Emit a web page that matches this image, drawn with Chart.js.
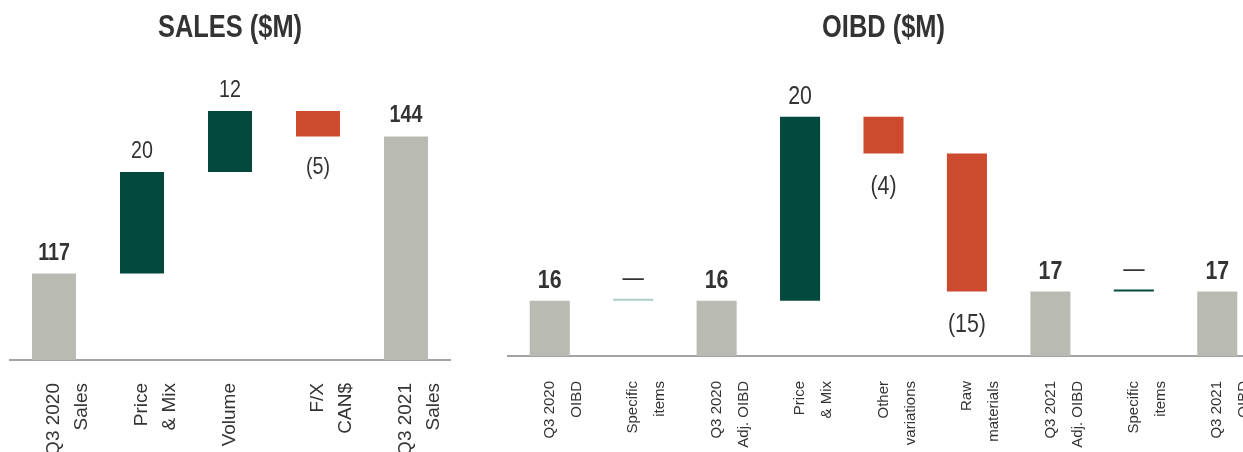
<!DOCTYPE html>
<html>
<head>
<meta charset="utf-8">
<script src="https://cdn.jsdelivr.net/npm/chart.js@4.4.1/dist/chart.umd.min.js"></script>
<style>
  html, body { margin: 0; padding: 0; background: #fff; overflow: hidden; }
  body { width: 1243px; height: 452px; position: relative; }
  .box { position: absolute; top: 0; height: 452px; }
  #salesBox { left: 0; width: 460px; }
  #oibdBox { left: 490px; width: 770px; }
</style>
</head>
<body>
<div id="salesBox" class="box"><canvas id="salesChart"></canvas></div>
<div id="oibdBox" class="box"><canvas id="oibdChart"></canvas></div>
<script>
// 銷售額橋接：類別、變動值、種類（total = 從軸底起算的總額）
const salesLabels = [['Q3 2020', 'Sales'], ['Price', '& Mix'], ['Volume'], ['F/X', 'CAN$'], ['Q3 2021', 'Sales']];
const salesSteps = [117, 20, 12, -5, 144];
const salesKinds = ['total', 'delta', 'delta', 'delta', 'total'];

// OIBD 橋接
const oibdLabels = [
    ['Q3 2020', 'OIBD'], ['Specific', 'items'], ['Q3 2020', 'Adj. OIBD'], ['Price', '& Mix'],
    ['Other', 'variations'], ['Raw', 'materials'], ['Q3 2021', 'Adj. OIBD'], ['Specific', 'items'], ['Q3 2021', 'OIBD']
];
const oibdSteps = [16, 0, 16, 20, -4, -15, 17, 0, 17];
const oibdKinds = ['total', 'delta', 'total', 'delta', 'delta', 'delta', 'total', 'delta', 'total'];

// 顏色與字型
const GREY = '#b9bab1';
const GREEN = '#034a3c';
const RED = '#cd4a2f';
const TEAL = '#a8cfc7';
const TEXT = '#333333';
const FONT = "'Liberation Sans', Arial, sans-serif";
const SQUEEZE = 0.82;   // 窄體字效果（水平壓縮）

const salesColors = [GREY, GREEN, GREEN, RED, GREY];
const oibdColors = [GREY, TEAL, GREY, GREEN, RED, RED, GREY, GREEN, GREY];

// 函式：把變動值轉成浮動長條 [起, 迄]
function buildFloating(steps, kinds, axisMin) {
    let running = 0;
    return steps.map((v, i) => {
        if (kinds[i] === 'total') {
            running = v;
            return [axisMin, v];
        }
        const from = running;
        running += v;
        return [from, running];
    });
}

// 函式：畫水平壓縮的文字
function drawNarrow(ctx, text, x, y, font) {
    ctx.save();
    ctx.translate(x, y);
    ctx.scale(SQUEEZE, 1);
    ctx.font = font;
    ctx.fillText(text, 0, 0);
    ctx.restore();
}

// 標題 + 數值標籤（正值在上、負值在下）
const valueLabels = {
    id: 'valueLabels',
    afterDatasetsDraw(chart, args, opts) {
        const ctx = chart.ctx;
        const area = chart.chartArea;
        const meta = chart.getDatasetMeta(0);
        ctx.save();
        ctx.textAlign = 'center';
        ctx.textBaseline = 'alphabetic';
        ctx.fillStyle = TEXT;

        drawNarrow(ctx, opts.title, (area.left + area.right) / 2, 37, 'bold 31px ' + FONT);

        meta.data.forEach((bar, i) => {
            const v = opts.steps[i];
            const bold = opts.kinds[i] === 'total';
            const text = v < 0 ? '(' + (-v) + ')' : (v === 0 ? '—' : String(v));
            const top = Math.min(bar.y, bar.base);
            const bottom = Math.max(bar.y, bar.base);
            const y = v < 0 ? bottom + opts.below : top - opts.above;
            drawNarrow(ctx, text, bar.x, y, (bold ? 'bold ' : '') + opts.size + 'px ' + FONT);
        });
        ctx.restore();
    }
};

function makeChart(id, cfg) {
    return new Chart(document.getElementById(id), {
        type: 'bar',
        data: {
            labels: cfg.labels,
            datasets: [{
                data: buildFloating(cfg.steps, cfg.kinds, cfg.min),
                backgroundColor: cfg.colors,
                borderWidth: 0,
                borderSkipped: false,
                categoryPercentage: 1,
                barPercentage: cfg.barPct,
                minBarLength: 2
            }]
        },
        options: {
            responsive: true,
            maintainAspectRatio: false,
            animation: false,
            layout: { padding: cfg.padding },
            plugins: {
                legend: { display: false },
                tooltip: { enabled: false },
                title: { display: false },
                valueLabels: {
                    title: cfg.title, steps: cfg.steps, kinds: cfg.kinds,
                    size: cfg.valueSize, above: cfg.above, below: cfg.below
                }
            },
            scales: {
                x: {
                    grid: { display: false, drawTicks: false },
                    border: { display: true, color: '#a3a3a3', width: 2 },
                    ticks: {
                        autoSkip: false,
                        maxRotation: 90,
                        minRotation: 90,
                        padding: cfg.tickPad,
                        color: TEXT,
                        font: { family: FONT, size: cfg.tickSize, lineHeight: cfg.tickLine }
                    },
                    afterFit: (scale) => {
                        // 固定軸高度，不讓旋轉標籤擠壓圖區
                        scale.height = cfg.axisHeight;
                        scale.paddingLeft = 0;
                        scale.paddingRight = 0;
                    }
                },
                y: { display: false, min: cfg.min, max: cfg.max }
            }
        },
        plugins: [valueLabels]
    });
}

makeChart('salesChart', {
    title: 'SALES ($M)',
    labels: salesLabels, steps: salesSteps, kinds: salesKinds, colors: salesColors,
    min: 100, max: 161, barPct: 0.5,
    padding: { top: 50, left: 10, right: 10 },
    axisHeight: 92, tickPad: 23, tickSize: 19, tickLine: 1.47,
    valueSize: 24, above: 14, below: 38
});

makeChart('oibdChart', {
    title: 'OIBD ($M)',
    labels: oibdLabels, steps: oibdSteps, kinds: oibdKinds, colors: oibdColors,
    min: 10, max: 43.26, barPct: 0.48,
    padding: { top: 50, left: 18, right: 1 },
    axisHeight: 96, tickPad: 25, tickSize: 15, tickLine: 1.8,
    valueSize: 26, above: 13, below: 40
});
</script>
</body>
</html>
